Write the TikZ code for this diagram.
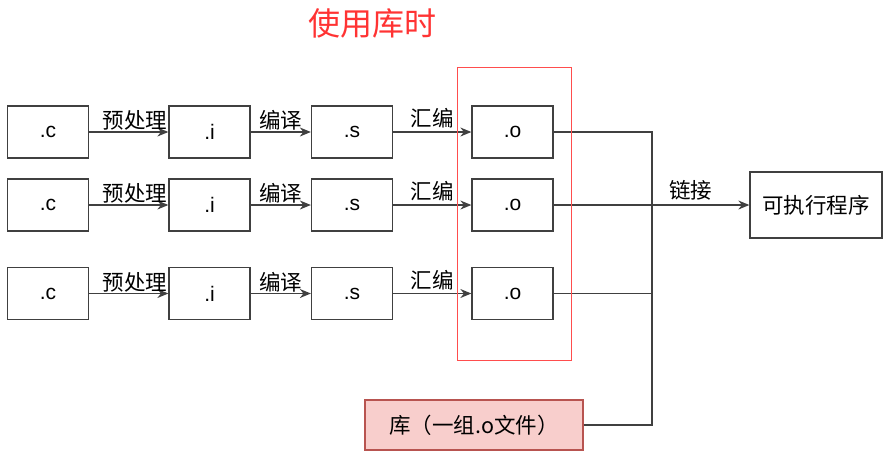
\documentclass[tikz,border=0pt]{standalone}
\usepackage{fontspec}
\setmainfont{Liberation Sans}
\newfontfamily\cjk{Noto Sans CJK SC}
\usetikzlibrary{arrows.meta}
\definecolor{titlered}{RGB}{255,51,51}
\definecolor{framered}{RGB}{255,77,77}
\definecolor{libfill}{RGB}{248,206,204}
\definecolor{libdraw}{RGB}{184,84,80}
\tikzset{
  file/.style={draw=black!75, line width=1.3pt, minimum width=81pt, minimum height=52pt, inner sep=0pt, font=\fontsize{21}{24}\selectfont},
  flow/.style={draw=black!75, line width=1.3pt, -{Stealth[length=11pt,width=9pt]}},
  wire/.style={draw=black!75, line width=1.3pt},
  lbl/.style={font=\cjk\fontsize{21.5}{24}\selectfont, inner sep=1pt, above}
}

\begin{document}
\begin{tikzpicture}[x=1pt, y=-1pt]
			%%%%% START %%%%%
			\useasboundingbox (0, 0) rectangle (890, 461);
			
			\node[font=\cjk\fontsize{32}{36}\selectfont, text=titlered] (title) at (372, 23) {使用库时};
			
			\node[file] (c1) at (48, 132) {.c};
			\node[file] (i1) at (209.5, 132) {.i};
			\node[file] (s1) at (352, 132) {.s};
			\node[file] (o1) at (512.5, 132) {.o};
			
			\node[file] (c2) at (48, 205) {.c};
			\node[file] (i2) at (209.5, 205) {.i};
			\node[file] (s2) at (352, 205) {.s};
			\node[file] (o2) at (512.5, 205) {.o};
			
			\node[file] (c3) at (48, 293.5) {.c};
			\node[file] (i3) at (209.5, 293.5) {.i};
			\node[file] (s3) at (352, 293.5) {.s};
			\node[file] (o3) at (512.5, 293.5) {.o};
			
			\draw[flow] (c1) -- node[lbl, pos=0.58] {预处理} (i1);
			\draw[flow] (i1) -- node[lbl] {编译} (s1);
			\draw[flow] (s1) -- node[lbl, yshift=2pt] {汇编} (o1);
			
			\draw[flow] (c2) -- node[lbl, pos=0.58] {预处理} (i2);
			\draw[flow] (i2) -- node[lbl] {编译} (s2);
			\draw[flow] (s2) -- node[lbl, yshift=2pt] {汇编} (o2);
			
			\draw[flow] (c3) -- node[lbl, pos=0.58] {预处理} (i3);
			\draw[flow] (i3) -- node[lbl] {编译} (s3);
			\draw[flow] (s3) -- node[lbl, yshift=2pt] {汇编} (o3);
			
			\node[file, font=\cjk\fontsize{21.5}{24}\selectfont, minimum width=132pt, minimum height=66pt] (exe) at (816, 205) {可执行程序};
			\node[file, font=\cjk\fontsize{21.5}{24}\selectfont, draw=libdraw, fill=libfill, minimum width=218pt, minimum height=50pt] (lib) at (474, 425) {库（一组.o文件）};
			
			\coordinate (jn) at (652, 205);
			\draw[wire] (o1) -| (jn);
			\draw[wire] (o3) -| (jn);
			\draw[wire] (lib) -| (jn);
			\draw[wire] (o2) -- (jn);
			\draw[flow] (jn) -- node[lbl, pos=0.4, yshift=3pt] {链接} (exe);
			
			\draw[framered, line width=1pt] (457, 67) rectangle (571, 360);
			
			%%%%% END %%%%%
\end{tikzpicture}
\end{document}
